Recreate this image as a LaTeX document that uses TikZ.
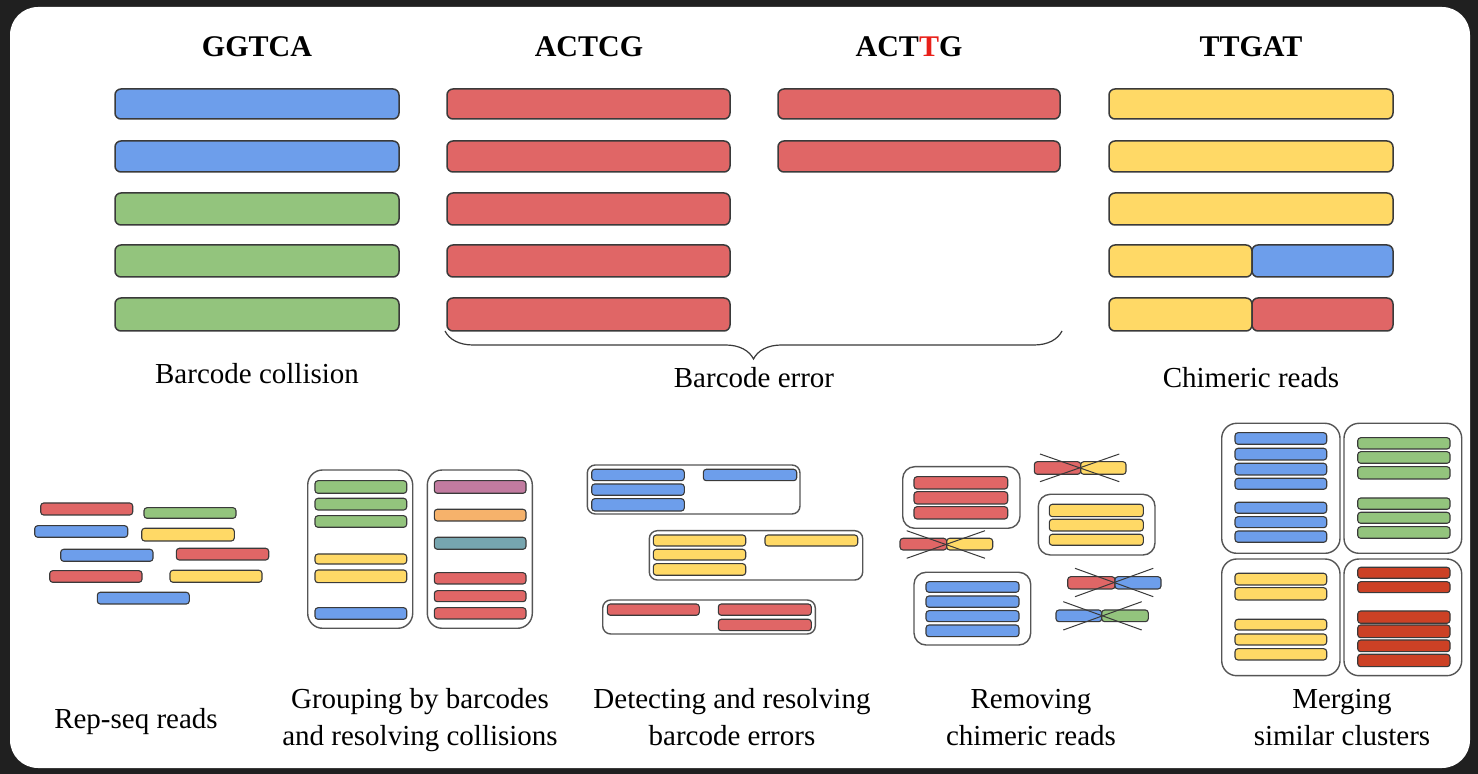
\documentclass[tikz,border=0pt]{standalone}
\usepackage{fontspec}
\setmainfont{Liberation Serif}
\usetikzlibrary{decorations.pathreplacing}
\definecolor{bgdark}{HTML}{202020}
\definecolor{cblue}{HTML}{6D9EEB}
\definecolor{cgreen}{HTML}{93C47D}
\definecolor{cred}{HTML}{E06666}
\definecolor{cyellow}{HTML}{FFD966}
\definecolor{cpurple}{HTML}{C27BA0}
\definecolor{corange}{HTML}{F6B26B}
\definecolor{cteal}{HTML}{76A5AF}
\definecolor{cdred}{HTML}{CC4125}
\definecolor{barline}{HTML}{3A3A3A}
\definecolor{grpline}{HTML}{555555}
\definecolor{errred}{HTML}{E8201A}
\begin{document}
\begin{tikzpicture}[x=0.5pt,y=-0.5pt,
  bigbar/.style={draw=barline, line width=0.75pt, rounded corners=3pt},
  smallbar/.style={draw=barline, line width=0.55pt, rounded corners=1.5pt},
  grp/.style={draw=grpline, line width=0.7pt, rounded corners=#1},
  grp/.default=7pt,
  lbl/.style={font=\fontsize{14.5}{18}\selectfont, align=center, inner sep=0pt},
  hdr/.style={font=\bfseries\fontsize{15}{18}\selectfont, inner sep=0pt},
  xline/.style={draw=barline, line width=0.5pt}]

\useasboundingbox (0,0) rectangle (1478,774);
\fill[bgdark] (0,0) rectangle (1478,774);
\fill[white, rounded corners=14pt] (10,7) rectangle (1470,768);

% ---------- top row headers ----------
\node[hdr, anchor=base] (hA) at (257,57) {GGTCA};
\node[hdr, anchor=base] (hB) at (589,57) {ACTCG};
\node[hdr, anchor=base] (hC) at (909,57) {ACT\textcolor{errred}{T}G};
\node[hdr, anchor=base] (hD) at (1251,57) {TTGAT};

% ---------- top row bars ----------
% column 1
\path[bigbar, fill=cblue]  (115,89) rectangle (399,119);
\path[bigbar, fill=cblue]  (115,141) rectangle (399,172);
\path[bigbar, fill=cgreen] (115,193) rectangle (399,225);
\path[bigbar, fill=cgreen] (115,245) rectangle (399,277);
\path[bigbar, fill=cgreen] (115,298) rectangle (399,331);
% column 2
\foreach \ya/\yb in {89/119,141/172,193/225,245/277,298/331}
  \path[bigbar, fill=cred] (447,\ya) rectangle (730,\yb);
% column 3
\foreach \ya/\yb in {89/119,141/172}
  \path[bigbar, fill=cred] (778,\ya) rectangle (1060,\yb);
% column 4
\foreach \ya/\yb in {89/119,141/172,193/225}
  \path[bigbar, fill=cyellow] (1109,\ya) rectangle (1393,\yb);
\path[bigbar, fill=cyellow] (1109,245) rectangle (1252,277);
\path[bigbar, fill=cblue]   (1252,245) rectangle (1393,277);
\path[bigbar, fill=cyellow] (1109,298) rectangle (1252,331);
\path[bigbar, fill=cred]    (1252,298) rectangle (1393,331);

% brace
\draw[barline, line width=0.6pt, decorate,
      decoration={brace, mirror, amplitude=14pt}] (445,331) -- (1062,331);

\node[lbl, anchor=base] (tA) at (257,384) {Barcode collision};
\node[lbl, anchor=base] (tB) at (754,388) {Barcode error};
\node[lbl, anchor=base] (tC) at (1251,388) {Chimeric reads};

% ---------- Rep-seq reads ----------
\path[smallbar, fill=cred]    (40.7,503) rectangle (132.7,515);
\path[smallbar, fill=cgreen]  (144,507.7) rectangle (236,518.3);
\path[smallbar, fill=cblue]   (34.7,525.7) rectangle (127.7,537.3);
\path[smallbar, fill=cyellow] (141.7,528.3) rectangle (234.3,541);
\path[smallbar, fill=cblue]   (60.7,549.3) rectangle (153,561.3);
\path[smallbar, fill=cred]    (176.3,548.3) rectangle (268.7,560);
\path[smallbar, fill=cred]    (49.7,570.7) rectangle (142,582.3);
\path[smallbar, fill=cyellow] (170,570.3) rectangle (262,582.3);
\path[smallbar, fill=cblue]   (97.3,592.3) rectangle (189.3,604);

% ---------- Grouping ----------
\path[grp=7.5pt] (307.7,470) rectangle (412.7,628.3);
\path[grp=7.5pt] (427.3,470) rectangle (532.3,628.3);
\path[smallbar, fill=cgreen]  (315,480.7) rectangle (406.7,493.3);
\path[smallbar, fill=cgreen]  (315,498.3) rectangle (406.7,510);
\path[smallbar, fill=cgreen]  (315,515.7) rectangle (406.7,527.3);
\path[smallbar, fill=cyellow] (315,554) rectangle (406.7,564);
\path[smallbar, fill=cyellow] (315,570) rectangle (406.7,582.7);
\path[smallbar, fill=cblue]   (315,607.7) rectangle (406.7,619.3);
\path[smallbar, fill=cpurple] (434.3,480.7) rectangle (526,493.3);
\path[smallbar, fill=corange] (434.3,509.3) rectangle (526,521);
\path[smallbar, fill=cteal]   (434.3,537.3) rectangle (526,549.3);
\path[smallbar, fill=cred]    (434.3,572.7) rectangle (526,584);
\path[smallbar, fill=cred]    (434.3,590.7) rectangle (526,601.7);
\path[smallbar, fill=cred]    (434.3,607.7) rectangle (526,619);

% ---------- Detecting ----------
\path[grp=4pt] (587.3,465) rectangle (800,514);
\path[smallbar, fill=cblue] (591.7,469.3) rectangle (684.3,480.7);
\path[smallbar, fill=cblue] (591.7,484) rectangle (684.3,495.3);
\path[smallbar, fill=cblue] (591.7,498.7) rectangle (684.3,511);
\path[smallbar, fill=cblue] (703.3,469.3) rectangle (796.7,480.7);

\path[grp=4pt] (649.3,530.7) rectangle (862.7,580);
\path[smallbar, fill=cyellow] (653.3,535) rectangle (745.7,546);
\path[smallbar, fill=cyellow] (653.3,549.3) rectangle (745.7,560);
\path[smallbar, fill=cyellow] (653.3,563.7) rectangle (745.7,575.3);
\path[smallbar, fill=cyellow] (765,535) rectangle (857.7,546);

\path[grp=4pt] (602.7,600) rectangle (815.3,634);
\path[smallbar, fill=cred] (607.3,604) rectangle (699.3,615.3);
\path[smallbar, fill=cred] (718.3,604) rectangle (811.3,615.3);
\path[smallbar, fill=cred] (718.3,619.3) rectangle (811.3,630.7);

% ---------- Removing chimeric reads ----------
\path[grp=6pt] (902.7,466.7) rectangle (1020,528.3);
\path[smallbar, fill=cred] (914,476.7) rectangle (1007.7,489);
\path[smallbar, fill=cred] (914,491.7) rectangle (1007.7,504);
\path[smallbar, fill=cred] (914,506.7) rectangle (1007.7,519);

\path[grp=6pt] (1038.3,494.3) rectangle (1155,555);
\path[smallbar, fill=cyellow] (1049.3,504.3) rectangle (1143.3,516.7);
\path[smallbar, fill=cyellow] (1049.3,519.3) rectangle (1143.3,531);
\path[smallbar, fill=cyellow] (1049.3,534.3) rectangle (1143.3,545.3);

\path[grp=6pt] (914,572.3) rectangle (1030.7,645);
\path[smallbar, fill=cblue] (926,581.7) rectangle (1019,592.3);
\path[smallbar, fill=cblue] (926,596) rectangle (1019,607.3);
\path[smallbar, fill=cblue] (926,610.7) rectangle (1019,621.7);
\path[smallbar, fill=cblue] (926,625) rectangle (1019,636.7);

% chimeras
\path[smallbar, fill=cred]    (1034.3,461.7) rectangle (1080.7,474.3);
\path[smallbar, fill=cyellow] (1080.7,461.7) rectangle (1126,474.3);
\coordinate (x1a) at (1040,454); \coordinate (x1b) at (1119.3,481.7);
\coordinate (x1c) at (1040,481.7); \coordinate (x1d) at (1119.3,454);
\draw[xline] (x1a) -- (x1b); \draw[xline] (x1c) -- (x1d);

\path[smallbar, fill=cred]    (900,538.3) rectangle (946.7,550);
\path[smallbar, fill=cyellow] (946.7,538.3) rectangle (992.7,550);
\coordinate (x2a) at (906.7,530.7); \coordinate (x2b) at (985,558.3);
\coordinate (x2c) at (906.7,558.3); \coordinate (x2d) at (985,530.7);
\draw[xline] (x2a) -- (x2b); \draw[xline] (x2c) -- (x2d);

\path[smallbar, fill=cred]  (1067.7,576.7) rectangle (1115,589);
\path[smallbar, fill=cblue] (1115,576.7) rectangle (1161,589);
\coordinate (x3a) at (1075,568.3); \coordinate (x3b) at (1153.3,596.7);
\coordinate (x3c) at (1075,596.7); \coordinate (x3d) at (1153.3,568.3);
\draw[xline] (x3a) -- (x3b); \draw[xline] (x3c) -- (x3d);

\path[smallbar, fill=cblue]  (1056,610) rectangle (1101.7,621.7);
\path[smallbar, fill=cgreen] (1101.7,610) rectangle (1148.3,621.7);
\coordinate (x4a) at (1063.3,601.7); \coordinate (x4b) at (1141.7,630);
\coordinate (x4c) at (1063.3,630); \coordinate (x4d) at (1141.7,601.7);
\draw[xline] (x4a) -- (x4b); \draw[xline] (x4c) -- (x4d);

% ---------- Merging ----------
\path[grp=7.5pt] (1221.7,423.3) rectangle (1340,553.3);
\path[grp=7.5pt] (1344,423.3) rectangle (1461.7,553.3);
\path[grp=7.5pt] (1221.7,559) rectangle (1340,675.7);
\path[grp=7.5pt] (1344,559) rectangle (1461.7,675.7);
\foreach \ya/\yb in {432.7/444.3,448.3/460,463.3/475,478.3/489.3,502.3/513.3,516.7/527.7,531/542.3}
  \path[smallbar, fill=cblue] (1235,\ya) rectangle (1326.7,\yb);
\foreach \ya/\yb in {437.7/449,451.7/463.3,466.7/479,498/509.3,512.3/523.3,526.7/538.3}
  \path[smallbar, fill=cgreen] (1357.7,\ya) rectangle (1450,\yb);
\foreach \ya/\yb in {573.3/585,587.7/600,619.3/630,634/645,648.7/660}
  \path[smallbar, fill=cyellow] (1235,\ya) rectangle (1326.7,\yb);
\foreach \ya/\yb in {567.3/578.3,581.7/592.7,611/623.3,625/637.7,640/651.7,654.3/666.7}
  \path[smallbar, fill=cdred] (1357.7,\ya) rectangle (1450,\yb);

% ---------- bottom labels ----------
\node[lbl, anchor=base] (b1) at (136,728) {Rep-seq reads};
\node[lbl, anchor=base] (b2) at (420,745) {Grouping by barcodes\\and resolving collisions};
\node[lbl, anchor=base] (b3) at (732,745) {Detecting and resolving\\barcode errors};
\node[lbl, anchor=base] (b4) at (1031,745) {Removing\\chimeric reads};
\node[lbl, anchor=base] (b5) at (1342,745) {Merging\\similar clusters};
\end{tikzpicture}
\end{document}
